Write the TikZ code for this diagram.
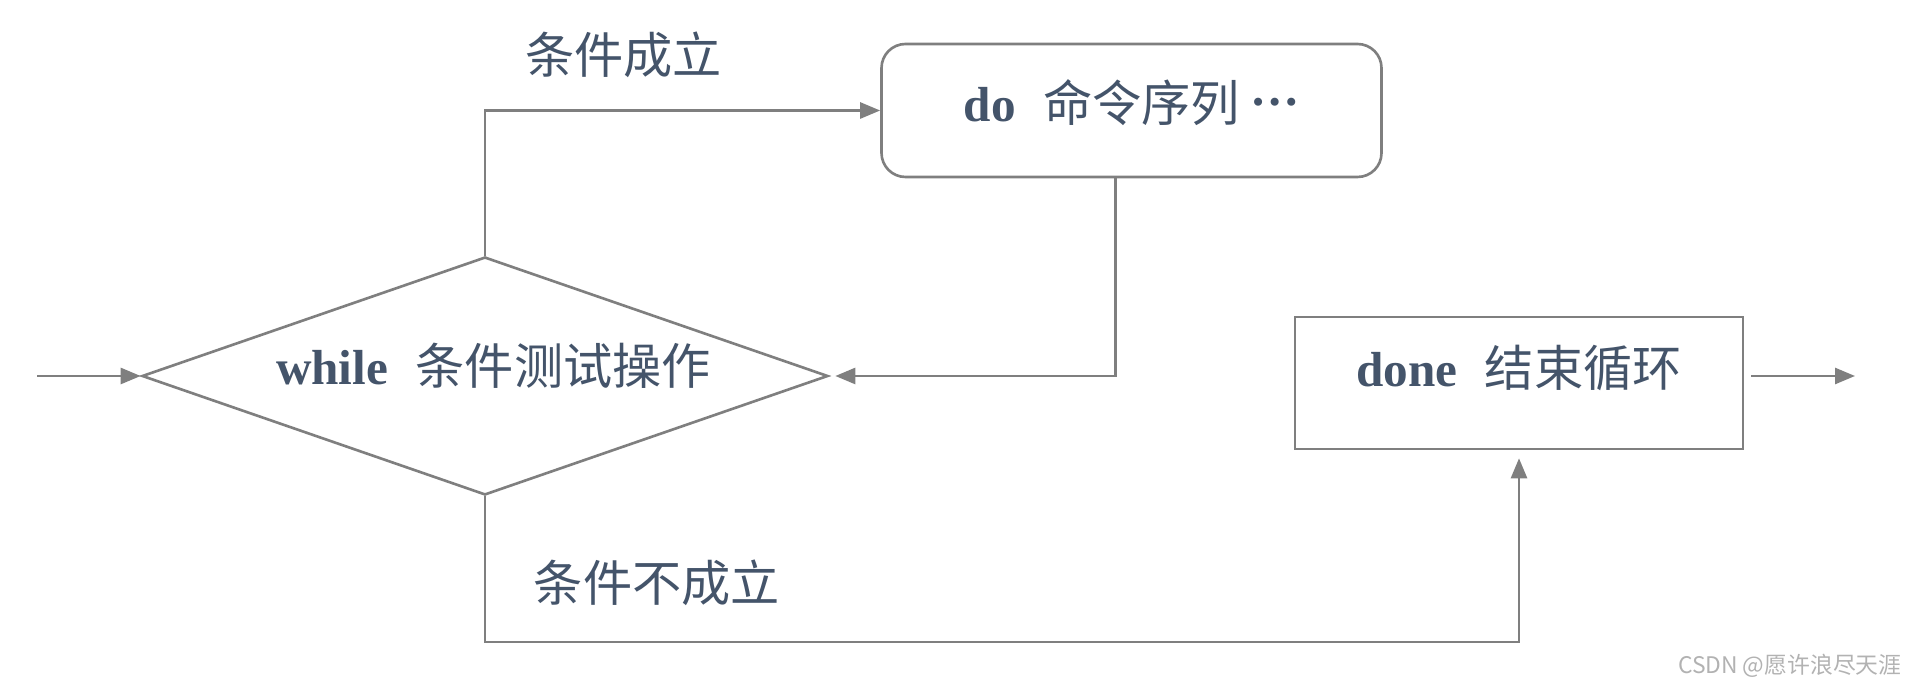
\documentclass[tikz,border=0pt]{standalone}
\usepackage{fontspec}
\setmainfont{Liberation Serif}
\newfontfamily\cjk{Noto Sans CJK SC}
\usetikzlibrary{shapes.geometric}
\usetikzlibrary{arrows.meta}
\usetikzlibrary{calc}
\definecolor{linegray}{HTML}{7F7F7F}
\definecolor{textblue}{HTML}{44546A}

\begin{document}
\begin{tikzpicture}[
    line/.style={draw=linegray, line width=1.5pt},
    arr/.style={line, -{Triangle[length=0.4cm, width=0.32cm]}},
    txt/.style={text=textblue, font=\fontsize{28}{34}\selectfont, inner sep=0pt},
  ]
    \useasboundingbox (0,0) rectangle (38.34,13.74);
    % boxes
    \node [line, txt, diamond, aspect=2.9, minimum width=13.72cm, minimum height=4.76cm] (test) at (9.70,6.22) {\hspace{0.34cm}\raisebox{0.48cm}{\textbf{while}\hspace{0.55cm}{\cjk 条件测试操作}}};
    \node [line, txt, rounded corners=0.48cm, minimum width=10cm, minimum height=2.66cm] (body) at (22.63,11.53) {\raisebox{0.4cm}{\textbf{do}\hspace{0.55cm}{\cjk 命令序列}\hspace{0.2cm}\raisebox{0.33em}{\textbf{…}}}};
    \node [line, txt, minimum width=8.96cm, minimum height=2.64cm] (done) at (30.38,6.08) {\raisebox{0.7cm}{\textbf{done}\hspace{0.55cm}{\cjk 结束循环}}};
    % labels
    \node [txt] (yes) at (12.47,12.64) {\cjk 条件成立};
    \node [txt] (no) at (13.14,2.08) {\cjk 条件不成立};
    \coordinate (in) at (0.74,6.22);
    \coordinate (out) at (37.1,6.22);
    \coordinate (low) at (9.70,0.9);
    % connectors
    \draw [arr] (in) -- (test.west);
    \draw [arr] (test.north) |- (body.west);
    \draw [arr, shorten >=1.2mm] ([xshift=-3.2mm]body.south) |- (test.east);
    \draw [arr, shorten >=1.6mm] (test.south) |- (low) -| (done.south);
    \draw [arr] ([xshift=1.4mm]done.east |- test.east) -- (out);
    % \node for the mark
    \node [text=gray!60, font=\fontsize{13}{15}\selectfont\cjk, anchor=east, inner sep=0pt] (mark) at (38.04,0.42) {CSDN @愿许浪尽天涯};
  \end{tikzpicture}
\end{document}
